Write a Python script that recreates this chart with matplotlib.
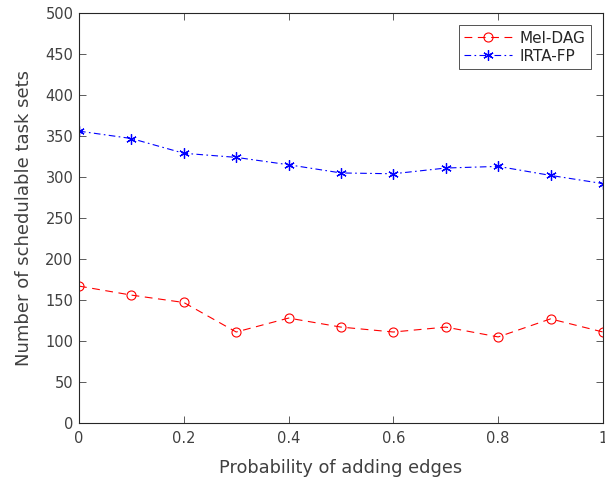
import numpy as np
import matplotlib
matplotlib.use('Agg')
import matplotlib.pyplot as plt

# data
prob = [0, 0.1, 0.2, 0.3, 0.4, 0.5, 0.6, 0.7, 0.8, 0.9, 1.0]
mel_dag = [167, 156, 147, 111, 128, 117, 111, 117, 105, 127, 111]
irta_fp = [356, 347, 329, 324, 315, 305, 304, 311, 313, 302, 292]
xticks = [0, 0.2, 0.4, 0.6, 0.8, 1]
xticklabels = ['0', '0.2', '0.4', '0.6', '0.8', '1']
yticks = np.arange(0, 501, 50)

txt = '#404040'
plt.rcParams['font.family'] = 'DejaVu Sans'

fig = plt.figure(figsize=(6.05, 4.84), dpi=100)
ax = fig.add_axes([0.1306, 0.126, 0.866, 0.847])

ax.plot(prob, mel_dag, color='red', linestyle=(0, (7, 5)), linewidth=0.8,
        marker='o', markersize=6.5, markerfacecolor='none', markeredgecolor='red',
        markeredgewidth=0.8, label='Mel-DAG')
ax.plot(prob, irta_fp, color='blue', linestyle=(0, (6, 3, 1.5, 3)), linewidth=0.8,
        marker=(6, 2, 0), markersize=7.5, markeredgecolor='blue',
        markeredgewidth=0.9, label='IRTA-FP')

ax.set_xlim(0, 1)
ax.set_ylim(0, 500)
ax.set_xticks(xticks)
ax.set_xticklabels(xticklabels)
ax.set_yticks(yticks)
ax.tick_params(direction='in', top=True, right=True, length=5, width=0.6,
               labelsize=10.5, colors=txt, pad=4)
ax.tick_params(axis='x', pad=6)
for s in ax.spines.values():
    s.set_linewidth(0.8)
    s.set_color('#262626')

ax.set_xlabel('Probability of adding edges', fontsize=12.8, color=txt, labelpad=9)
ax.set_ylabel('Number of schedulable task sets', fontsize=13, color=txt, labelpad=9)

leg = ax.legend(loc='upper right', fontsize=11, frameon=True, fancybox=False,
                edgecolor='#262626', borderaxespad=0.8, handlelength=3.1,
                labelspacing=0.2, borderpad=0.35, handletextpad=0.5)
leg.get_frame().set_linewidth(0.7)
for t in leg.get_texts():
    t.set_color('#262626')

fig.savefig('out.png', dpi=100)
